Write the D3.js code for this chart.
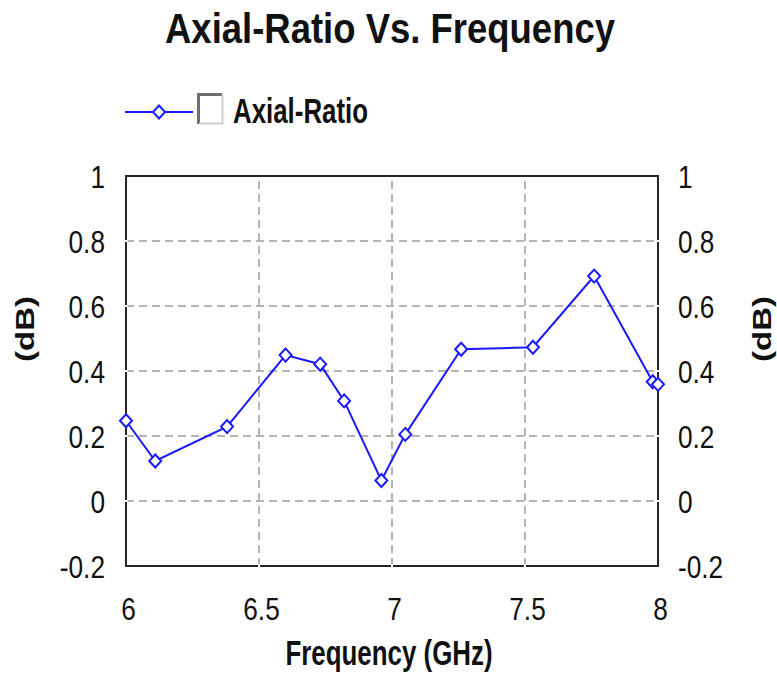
<!DOCTYPE html>
<html>
<head>
<meta charset="utf-8">
<script src="https://cdn.jsdelivr.net/npm/d3@7"></script>
<style>
    body { margin: 0; background: #fff; }
    text { font-family: "Liberation Sans", Arial, sans-serif; fill: #111; }
</style>
</head>
<body>
<div id="chart"></div>
<script>
"use strict";
// values
const frequency = [6.0, 6.11, 6.38, 6.6, 6.73, 6.82, 6.96, 7.05, 7.26, 7.53, 7.76, 7.98, 8.0]
const axialRatio = [0.247, 0.123, 0.229, 0.449, 0.421, 0.308, 0.063, 0.205, 0.467, 0.473, 0.692, 0.367, 0.359]
const xTicks = [6, 6.5, 7, 7.5, 8]
const yTicks = [-0.2, 0, 0.2, 0.4, 0.6, 0.8, 1]
const seriesName = "Axial-Ratio"

const measurements = { width: 777, height: 676, left: 126, right: 658, top: 176, bottom: 566 }
const blue = "#1a1aff"

const svg = d3.select("#chart").append("svg")
    .attr("width", measurements.width)
    .attr("height", measurements.height)

const scaleX = d3.scaleLinear().domain([6, 8]).range([measurements.left, measurements.right])
const scaleY = d3.scaleLinear().domain([-0.2, 1]).range([measurements.bottom, measurements.top])

// gridlines (inner ticks only)
const grid = svg.append("g")
    .attr("stroke", "#b4b4b4")
    .attr("stroke-width", 2)
    .attr("stroke-dasharray", "8,5")
grid.selectAll(".hgrid")
    .data(yTicks.filter((d) => d > -0.2 && d < 1))
    .enter().append("line")
    .attr("x1", measurements.left).attr("x2", measurements.right)
    .attr("y1", (d) => scaleY(d)).attr("y2", (d) => scaleY(d))
grid.selectAll(".vgrid")
    .data(xTicks.filter((d) => d > 6 && d < 8))
    .enter().append("line")
    .attr("y1", measurements.bottom).attr("y2", measurements.top)
    .attr("x1", (d) => scaleX(d)).attr("x2", (d) => scaleX(d))

// plot frame
svg.append("rect")
    .attr("x", measurements.left)
    .attr("y", measurements.top)
    .attr("width", measurements.right - measurements.left)
    .attr("height", measurements.bottom - measurements.top)
    .attr("fill", "none")
    .attr("stroke", "#262626")
    .attr("stroke-width", 2)

// small white breaks where grid meets the frame
const breaks = svg.append("g").attr("stroke", "#fff").attr("stroke-width", 2)
yTicks.filter((d) => d > -0.2 && d < 1).forEach((d) => {
    [measurements.left, measurements.right].forEach((x) => {
        breaks.append("line").attr("x1", x - 1.5).attr("x2", x + 1.5)
            .attr("y1", scaleY(d)).attr("y2", scaleY(d))
    })
})
xTicks.filter((d) => d > 6 && d < 8).forEach((d) => {
    breaks.append("line").attr("x1", scaleX(d)).attr("x2", scaleX(d))
        .attr("y1", measurements.bottom - 1.5).attr("y2", measurements.bottom + 1.5)
})

// axes: labels only, squeezed like the reference font
const squeezeX = 0.82
function styleTicks(g, x, y, anchor) {
    g.select(".domain").remove()
    g.selectAll(".tick line").remove()
    g.selectAll(".tick text")
        .attr("x", null).attr("y", null).attr("dy", null)
        .attr("text-anchor", anchor)
        .style("font-size", "32px")
        .attr("transform", "translate(" + x + "," + y + ") scale(" + squeezeX + ",1)")
}
const tickFormat = (d) => String(d)

svg.append("g")
    .attr("transform", "translate(" + measurements.left + ",0)")
    .call(d3.axisLeft(scaleY).tickValues(yTicks).tickFormat(tickFormat))
    .call((g) => styleTicks(g, -21, 11, "end"))

svg.append("g")
    .attr("transform", "translate(" + measurements.right + ",0)")
    .call(d3.axisRight(scaleY).tickValues(yTicks).tickFormat(tickFormat))
    .call((g) => styleTicks(g, 20, 11, "start"))

svg.append("g")
    .attr("transform", "translate(0," + measurements.bottom + ")")
    .call(d3.axisBottom(scaleX).tickValues(xTicks).tickFormat(tickFormat))
    .call((g) => styleTicks(g, 2, 54, "middle"))

// the series
const line = d3.line()
    .x((d, i) => scaleX(frequency[i]))
    .y((d) => scaleY(d))
svg.append("path")
    .datum(axialRatio)
    .attr("d", line)
    .attr("fill", "none")
    .attr("stroke", blue)
    .attr("stroke-width", 2)

const diamond = "M0,-6.5L6,0L0,6.5L-6,0Z"
svg.selectAll(".marker")
    .data(axialRatio)
    .enter().append("path")
    .attr("d", diamond)
    .attr("transform", (d, i) => "translate(" + scaleX(frequency[i]) + "," + scaleY(d) + ")")
    .attr("fill", "#fff")
    .attr("stroke", blue)
    .attr("stroke-width", 2)

// title
svg.append("text")
    .attr("x", 390).attr("y", 43)
    .attr("text-anchor", "middle")
    .style("font-size", "42px").style("font-weight", "bold")
    .attr("textLength", 450).attr("lengthAdjust", "spacingAndGlyphs")
    .text("Axial-Ratio Vs. Frequency")

// axis titles
svg.append("text")
    .attr("x", 389).attr("y", 665)
    .attr("text-anchor", "middle")
    .style("font-size", "35px").style("font-weight", "bold")
    .attr("textLength", 207).attr("lengthAdjust", "spacingAndGlyphs")
    .text("Frequency (GHz)")

;[25, 762].forEach((x) => {
    svg.append("text")
        .attr("transform", "translate(" + x + ",329) rotate(-90) scale(1,0.8)")
        .attr("text-anchor", "middle")
        .attr("dy", "0.35em")
        .style("font-size", "33px").style("font-weight", "bold")
        .text("(dB)")
})

// legend
const legend = svg.append("g")
legend.append("line")
    .attr("x1", 125).attr("x2", 193).attr("y1", 112).attr("y2", 112)
    .attr("stroke", blue).attr("stroke-width", 2)
legend.append("path")
    .attr("d", diamond)
    .attr("transform", "translate(159,112)")
    .attr("fill", "#fff").attr("stroke", blue).attr("stroke-width", 2)
legend.append("rect")
    .attr("x", 197).attr("y", 93).attr("width", 26).attr("height", 32)
    .attr("fill", "#fff")
legend.append("path")
    .attr("d", "M198.5,124V94.5H222")
    .attr("fill", "none").attr("stroke", "#6e6e6e").attr("stroke-width", 3)
legend.append("path")
    .attr("d", "M199,123.5H222.5V95")
    .attr("fill", "none").attr("stroke", "#cfcfcf").attr("stroke-width", 2)
legend.append("text")
    .attr("x", 233).attr("y", 123)
    .style("font-size", "35px").style("font-weight", "bold")
    .attr("textLength", 135).attr("lengthAdjust", "spacingAndGlyphs")
    .text(seriesName)
</script>
</body>
</html>
